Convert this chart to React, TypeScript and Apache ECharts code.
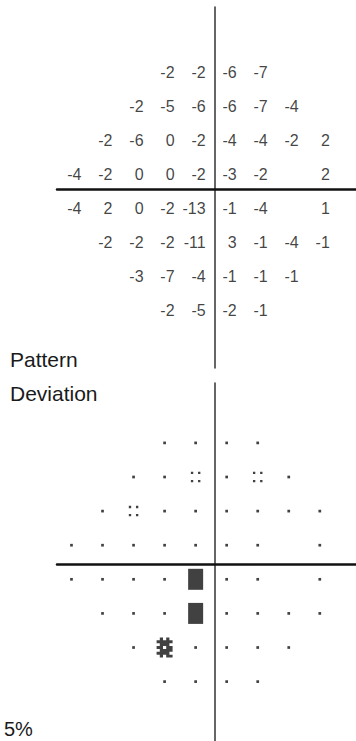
import React, { useEffect, useRef } from "react";
import * as echarts from "echarts";

// Test point grid (degrees)
const COLUMN_DEG = [-27, -21, -15, -9, -3, 3, 9, 15, 21];
const ROW_DEG = [21, 15, 9, 3, -3, -9, -15, -21];

// Pattern deviation values (dB), one array per row, null = no test point
const PD_ROW_1 = [null, null, null, -2, -2, -6, -7, null, null];
const PD_ROW_2 = [null, null, -2, -5, -6, -6, -7, -4, null];
const PD_ROW_3 = [null, -2, -6, 0, -2, -4, -4, -2, 2];
const PD_ROW_4 = [-4, -2, 0, 0, -2, -3, -2, null, 2];
const PD_ROW_5 = [-4, 2, 0, -2, -13, -1, -4, null, 1];
const PD_ROW_6 = [null, -2, -2, -2, -11, 3, -1, -4, -1];
const PD_ROW_7 = [null, null, -3, -7, -4, -1, -1, -1, null];
const PD_ROW_8 = [null, null, null, -2, -5, -2, -1, null, null];
const PD_ROWS = [PD_ROW_1, PD_ROW_2, PD_ROW_3, PD_ROW_4, PD_ROW_5, PD_ROW_6, PD_ROW_7, PD_ROW_8];

// Probability symbols: "ns" not significant, "p5" < 5%, "p2" < 2%, "p05" < 0.5%
const PROB_ROW_1 = [null, null, null, "ns", "ns", "ns", "ns", null, null];
const PROB_ROW_2 = [null, null, "ns", "ns", "p5", "ns", "p5", "ns", null];
const PROB_ROW_3 = [null, "ns", "p5", "ns", "ns", "ns", "ns", "ns", "ns"];
const PROB_ROW_4 = ["ns", "ns", "ns", "ns", "ns", "ns", "ns", null, "ns"];
const PROB_ROW_5 = ["ns", "ns", "ns", "ns", "p05", "ns", "ns", null, "ns"];
const PROB_ROW_6 = [null, "ns", "ns", "ns", "p05", "ns", "ns", "ns", "ns"];
const PROB_ROW_7 = [null, null, "ns", "p2", "ns", "ns", "ns", "ns", null];
const PROB_ROW_8 = [null, null, null, "ns", "ns", "ns", "ns", null, null];
const PROB_ROWS = [PROB_ROW_1, PROB_ROW_2, PROB_ROW_3, PROB_ROW_4, PROB_ROW_5, PROB_ROW_6, PROB_ROW_7, PROB_ROW_8];

// Symbol shapes (style)
const CHECKER_PATTERN = [
  ".X.X.",
  "XXXXX",
  ".XXX.",
  "XX.XX",
  ".XXXX",
  "XXXX.",
  ".X.XX",
];
function checkerPath(): string {
  let d = "";
  CHECKER_PATTERN.forEach((line, r) => {
    line.split("").forEach((ch, c) => {
      if (ch === "X") d += `M${c} ${r}h1v1h-1Z`;
    });
  });
  return "path://" + d;
}
const SYMBOLS: Record<string, { symbol: string; size: number | number[] }> = {
  ns: { symbol: "rect", size: 2.7 },
  p5: { symbol: "path://M0 0h2.3v2.3h-2.3ZM7 0h2.3v2.3h-2.3ZM0 8h2.3v2.3h-2.3ZM7 8h2.3v2.3h-2.3Z", size: [9.5, 10.5] },
  p2: { symbol: checkerPath(), size: [16, 20] },
  p05: { symbol: "rect", size: [15, 21] },
};

const NUM_FONT = "'Liberation Sans Narrow', 'Arial Narrow', 'Liberation Sans', sans-serif";
const TEXT_FONT = "'Liberation Sans', Arial, sans-serif";

function buildOption() {
  const numberData: any[] = [];
  PD_ROWS.forEach((row, r) =>
    row.forEach((v, c) => {
      if (v !== null) numberData.push([COLUMN_DEG[c], ROW_DEG[r], v]);
    })
  );
  const symbolData: any[] = [];
  PROB_ROWS.forEach((row, r) =>
    row.forEach((p, c) => {
      if (p !== null) {
        const s = SYMBOLS[p as string];
        symbolData.push({ value: [COLUMN_DEG[c], ROW_DEG[r]], symbol: s.symbol, symbolSize: s.size });
      }
    })
  );

  const xCommon = {
    type: "value",
    min: -29.8,
    max: 28,
    position: "top",
    axisLine: { show: true, onZero: false, lineStyle: { color: "#111", width: 2.5 } },
    axisTick: { show: false },
    axisLabel: { show: false },
    splitLine: { show: false },
  };
  const yCommon = {
    type: "value",
    position: "left",
    offset: -158,
    axisLine: { show: true, onZero: false, lineStyle: { color: "#333", width: 1.5 } },
    axisTick: { show: false },
    axisLabel: { show: false },
    splitLine: { show: false },
  };

  return {
    animation: false,
    backgroundColor: "#ffffff",
    grid: [
      { left: 57, right: 0, top: 7, height: 361 },
      { left: 57, right: 0, top: 383, height: 358 },
    ],
    xAxis: [
      { ...xCommon, gridIndex: 0, offset: 7 - 189.3 },
      { ...xCommon, gridIndex: 1, offset: 383 - 564 },
    ],
    yAxis: [
      { ...yCommon, gridIndex: 0, min: -31.03, max: 32.47 },
      { ...yCommon, gridIndex: 1, min: -31.45, max: 31.54 },
    ],
    graphic: [
      { type: "text", left: 10, top: 349, style: { text: "Pattern", fontSize: 21, fontFamily: TEXT_FONT, fill: "#1a1a1a" } },
      { type: "text", left: 10, top: 383, style: { text: "Deviation", fontSize: 21, fontFamily: TEXT_FONT, fill: "#1a1a1a" } },
      { type: "text", left: 4, top: 719, style: { text: "5%", fontSize: 20, fontFamily: TEXT_FONT, fill: "#1a1a1a" } },
    ],
    series: [
      {
        type: "scatter",
        xAxisIndex: 0,
        yAxisIndex: 0,
        symbol: "rect",
        symbolSize: 1,
        itemStyle: { color: "rgba(0,0,0,0)" },
        data: numberData,
        label: {
          show: true,
          position: "inside",
          align: "right",
          verticalAlign: "middle",
          offset: [10, 0],
          fontSize: 16,
          fontFamily: NUM_FONT,
          color: "#111",
          formatter: (p: any) => String(p.value[2]),
        },
      },
      {
        type: "scatter",
        xAxisIndex: 1,
        yAxisIndex: 1,
        itemStyle: { color: "#111" },
        data: symbolData,
      },
    ],
  };
}

export default function App() {
  const ref = useRef<HTMLDivElement>(null);
  useEffect(() => {
    if (!ref.current) return;
    const chart = echarts.init(ref.current, undefined, { renderer: "svg" });
    chart.setOption(buildOption() as any);
    return () => chart.dispose();
  }, []);
  return (
    <div
      ref={ref}
      style={{ position: "fixed", left: 0, top: 0, width: 356, height: 741, background: "#fff" }}
    />
  );
}
